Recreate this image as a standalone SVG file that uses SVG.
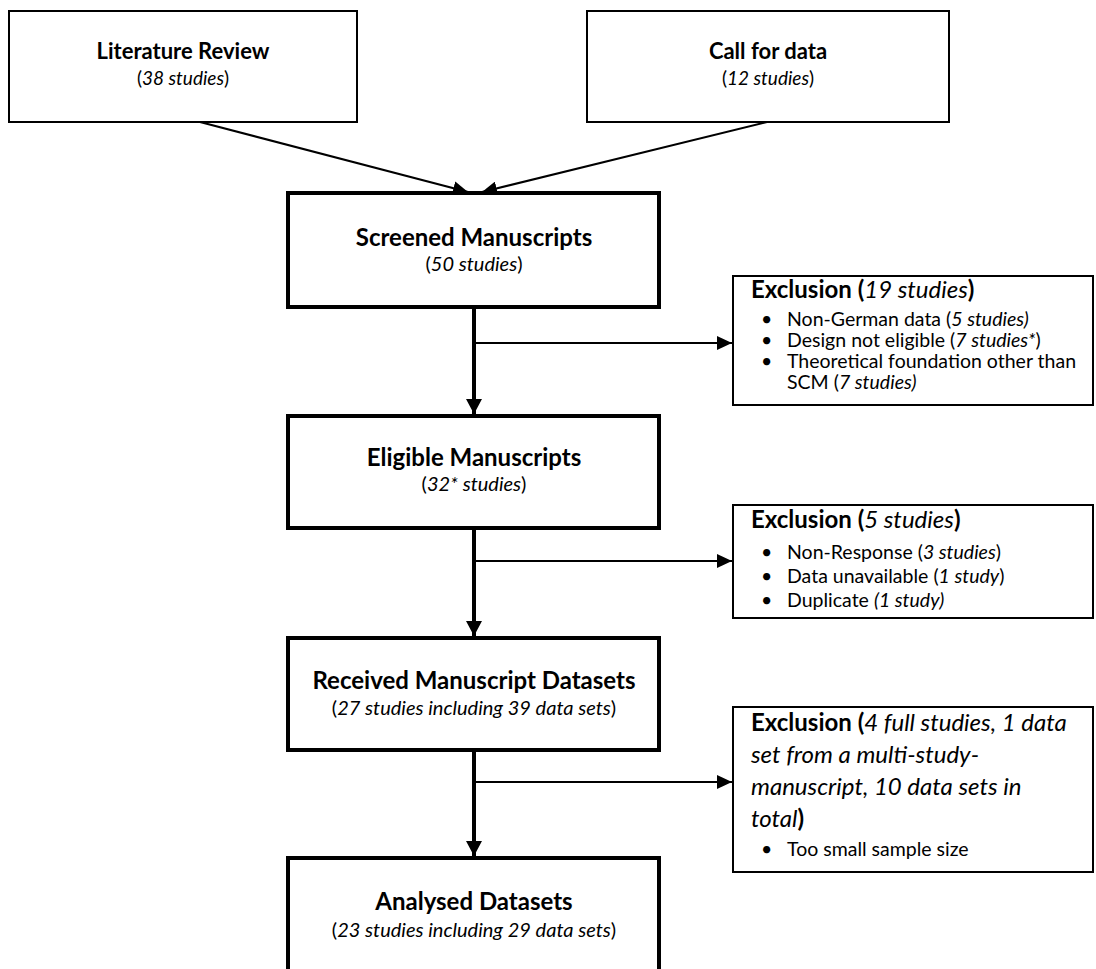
<svg xmlns="http://www.w3.org/2000/svg" width="1096" height="969" viewBox="0 0 1096 969">
<style>
text{font-family:Lato,"Liberation Sans",sans-serif;fill:#000}
.box{fill:#fff;stroke:#000;stroke-width:2}
.main{fill:#fff;stroke:#000;stroke-width:4}
.t{font-weight:bold;font-size:22px;text-anchor:middle}
.tm{font-weight:bold;font-size:24px;text-anchor:middle}
.s{font-size:19px;text-anchor:middle}
.sm{font-size:20px;text-anchor:middle}
.i{font-style:italic}
.n{font-weight:normal}
.xt{font-weight:bold;font-size:24px}
.xi{font-style:italic;font-weight:normal;font-size:24px}
.xb{font-size:19.5px}
.thin{stroke:#000;stroke-width:2;fill:none}
.thick{stroke:#000;stroke-width:4;fill:none}
</style>
<defs>
<marker id="ah" markerUnits="userSpaceOnUse" markerWidth="16" markerHeight="14" refX="15" refY="7" orient="auto"><path d="M0,0 L15,7 L0,14 Z" fill="#000"/></marker>
<marker id="ahb" markerUnits="userSpaceOnUse" markerWidth="16" markerHeight="16" refX="15" refY="8" orient="auto"><path d="M0,0 L15,8 L0,16 Z" fill="#000"/></marker>
</defs>
<rect width="1096" height="969" fill="#fff"/>
<g id="connectors">
<line class="thin" x1="200" y1="122" x2="468" y2="192" marker-end="url(#ah)"/>
<line class="thin" x1="767" y1="122" x2="482" y2="192" marker-end="url(#ah)"/>
<line class="thick" x1="474" y1="307" x2="474" y2="414" marker-end="url(#ahb)"/>
<line class="thin" x1="474" y1="343" x2="732" y2="343" marker-end="url(#ah)"/>
<line class="thick" x1="474" y1="528" x2="474" y2="636" marker-end="url(#ahb)"/>
<line class="thin" x1="474" y1="561" x2="732" y2="561" marker-end="url(#ah)"/>
<line class="thick" x1="474" y1="750" x2="474" y2="856" marker-end="url(#ahb)"/>
<line class="thin" x1="474" y1="782" x2="732" y2="782" marker-end="url(#ah)"/>
</g>
<g id="literature">
<rect class="box" x="9" y="11" width="348" height="111"/>
<text class="t" x="183" y="59">Literature Review</text>
<text class="s" x="183" y="85">(<tspan class="i">38 studies</tspan>)</text>
</g>
<g id="call">
<rect class="box" x="587" y="11" width="362" height="111"/>
<text class="t" x="768" y="59">Call for data</text>
<text class="s" x="768" y="85">(<tspan class="i">12 studies</tspan>)</text>
</g>
<g id="screened">
<rect class="main" x="288" y="193" width="371" height="114"/>
<text class="tm" x="474" y="246">Screened Manuscripts</text>
<text class="sm" x="474" y="271">(<tspan class="i">50 studies</tspan>)</text>
</g>
<g id="excl1">
<rect class="box" x="733" y="276" width="360" height="129"/>
<text class="xt" x="751" y="298">Exclusion (<tspan class="i n">19 studies</tspan>)</text>
<text class="xb" x="761" y="326">•</text><text class="xb" x="787" y="326">Non-German data (<tspan class="i">5 studies)</tspan></text>
<text class="xb" x="761" y="347">•</text><text class="xb" x="787" y="347">Design not eligible (<tspan class="i">7 studies*</tspan>)</text>
<text class="xb" x="761" y="368">•</text><text class="xb" x="787" y="368">Theoretical foundation other than</text>
<text class="xb" x="787" y="389">SCM (<tspan class="i">7 studies)</tspan></text>
</g>
<g id="eligible">
<rect class="main" x="288" y="416" width="371" height="112"/>
<text class="tm" x="474" y="466">Eligible Manuscripts</text>
<text class="sm" x="474" y="491">(<tspan class="i">32* studies</tspan>)</text>
</g>
<g id="excl2">
<rect class="box" x="733" y="505" width="360" height="113"/>
<text class="xt" x="751" y="528">Exclusion (<tspan class="i n">5 studies</tspan>)</text>
<text class="xb" x="761" y="559">•</text><text class="xb" x="787" y="559">Non-Response (<tspan class="i">3 studies</tspan>)</text>
<text class="xb" x="761" y="583">•</text><text class="xb" x="787" y="583">Data unavailable (<tspan class="i">1 study</tspan>)</text>
<text class="xb" x="761" y="607">•</text><text class="xb" x="787" y="607">Duplicate <tspan class="i">(1 study)</tspan></text>
</g>
<g id="received">
<rect class="main" x="288" y="638" width="371" height="112"/>
<text class="tm" x="474" y="689">Received Manuscript Datasets</text>
<text class="sm" x="474" y="715">(<tspan class="i">27 studies including 39 data sets</tspan>)</text>
</g>
<g id="excl3">
<rect class="box" x="733" y="707" width="360" height="165"/>
<text class="xt" x="751" y="731">Exclusion (<tspan class="i n">4 full studies, 1 data</tspan></text>
<text class="xi" x="751" y="763">set from a multi-study-</text>
<text class="xi" x="751" y="795">manuscript, 10 data sets in</text>
<text class="xt" x="751" y="827"><tspan class="i n">total</tspan>)</text>
<text class="xb" x="761" y="856">•</text><text class="xb" x="787" y="856">Too small sample size</text>
</g>
<g id="analysed">
<rect class="main" x="288" y="858" width="371" height="130"/>
<text class="tm" x="474" y="910">Analysed Datasets</text>
<text class="sm" x="474" y="937">(<tspan class="i">23 studies including 29 data sets</tspan>)</text>
</g>
</svg>
